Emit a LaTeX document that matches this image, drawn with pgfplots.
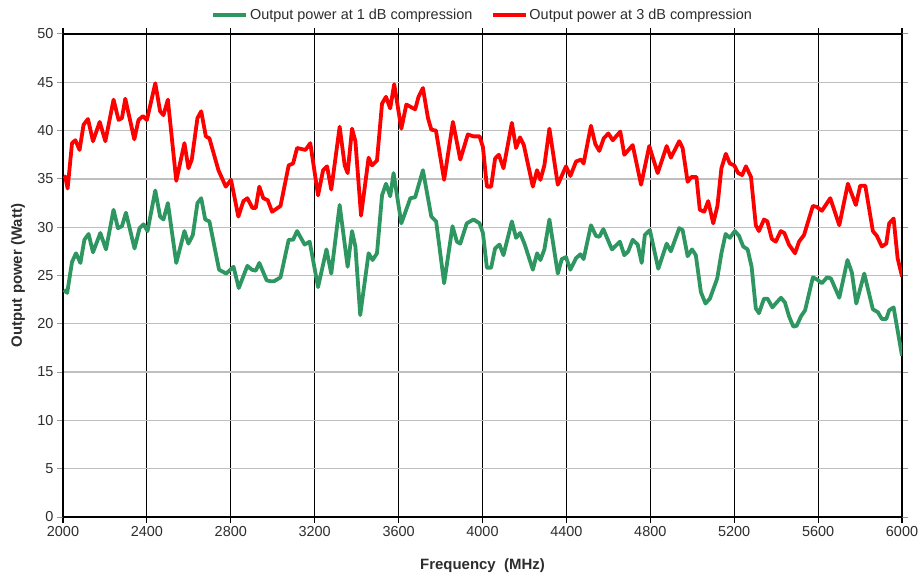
\documentclass[border=0pt]{standalone}
\usepackage{fontspec}
\setmainfont{Liberation Sans}
\usepackage{pgfplots}
\pgfplotsset{compat=1.18}
\definecolor{grn}{RGB}{46,150,96}
\definecolor{rd}{RGB}{255,0,0}
\definecolor{txt}{RGB}{45,45,45}

\begin{document}
\begin{tikzpicture}
\useasboundingbox (-63bp,-58bp) rectangle (857bp,517bp);
\begin{axis}[
    scale only axis,
    width=839bp, height=483bp,
    xmin=2000, xmax=6000, ymin=0, ymax=50,
    xtick={2000,2400,...,6000},
    ytick={0,5,...,50},
    /pgf/number format/assume math mode=true,
    /pgf/number format/1000 sep={},
    tick label style={font=\fontsize{14.5}{17}\selectfont, text=txt},
    grid=major,
    x grid style={black, line width=1.1bp},
    y grid style={black!25, line width=1.3bp},
    axis line style={black, line width=2.6bp},
    tick align=outside,
    major tick length=6bp,
    ytick style={black!40, line width=1bp},
    xtick style={black, line width=1.1bp},
    xlabel={\bfseries Frequency\ \ (MHz)},
    ylabel={\bfseries Output power (Watt)},
    xlabel style={at={(axis description cs:0.5,0)}, anchor=center, yshift=-49bp,
        font=\fontsize{15}{18}\selectfont, text=txt},
    ylabel style={at={(axis description cs:0,0.5)}, anchor=center, yshift=45bp,
        font=\fontsize{15}{18}\selectfont, text=txt},
    legend style={at={(0.5,1)}, anchor=center, yshift=19bp, draw=none, fill=none,
        legend columns=2, font=\fontsize{14.5}{16}\selectfont, text=txt,
        inner sep=0pt,
        /tikz/every even column/.append style={column sep=16bp}},
    legend image code/.code={\draw[#1, line width=4bp] (0bp,0bp) -- (33bp,0bp);},
    line join=round,
]

\addplot[grn, line width=3.8bp] coordinates {
(2004,23.5) (2020,23.2) (2043,26.4) (2062,27.3) (2083,26.3) (2102,28.7) (2122,29.3)
(2143,27.4) (2178,29.4) (2205,27.7) (2241,31.8) (2262,29.9) (2281,30.1) (2300,31.5)
(2341,27.8) (2365,29.9) (2384,30.3) (2403,29.6) (2440,33.8) (2463,31.1) (2479,30.8)
(2500,32.5) (2540,26.3) (2579,29.6) (2598,28.3) (2619,29.2) (2641,32.5) (2659,33.0)
(2678,30.8) (2698,30.6) (2744,25.6) (2778,25.2) (2813,25.9) (2838,23.7) (2879,26.0)
(2900,25.6) (2919,25.5) (2936,26.3) (2971,24.5) (2990,24.4) (3005,24.4) (3037,24.8)
(3076,28.7) (3097,28.7) (3116,29.6) (3152,28.2) (3176,28.5) (3216,23.8) (3256,27.7)
(3279,25.2) (3319,32.3) (3357,25.9) (3378,29.6) (3394,28.0) (3417,20.9) (3457,27.3)
(3476,26.6) (3497,27.3) (3521,33.3) (3540,34.5) (3560,33.2) (3576,35.6) (3613,30.4)
(3656,33.0) (3679,33.1) (3716,35.9) (3756,31.1) (3779,30.6) (3817,24.2) (3857,30.1)
(3878,28.5) (3894,28.3) (3925,30.4) (3957,30.8) (3986,30.4) (4002,29.4) (4021,25.8)
(4041,25.8) (4060,27.8) (4081,28.2) (4100,27.1) (4140,30.6) (4160,28.9) (4179,29.4)
(4200,28.3) (4240,25.6) (4260,27.3) (4276,26.6) (4295,27.7) (4319,30.8) (4359,25.2)
(4378,26.7) (4398,26.9) (4419,25.6) (4446,26.8) (4467,27.2) (4482,26.7) (4517,30.2)
(4541,29.1) (4557,29.0) (4576,29.8) (4617,27.7) (4655,28.5) (4676,27.1) (4695,27.5)
(4716,28.7) (4740,28.2) (4759,26.3) (4774,29.2) (4798,29.7) (4838,25.7) (4878,28.3)
(4898,27.5) (4938,29.9) (4954,29.7) (4978,27.0) (4999,27.7) (5017,27.1) (5041,23.3)
(5063,22.1) (5084,22.6) (5119,24.7) (5139,27.3) (5159,29.3) (5179,28.9) (5203,29.6)
(5223,29.1) (5243,28.0) (5264,27.7) (5283,25.9) (5303,21.6) (5318,21.1) (5342,22.6)
(5359,22.6) (5382,21.7) (5402,22.2) (5423,22.7) (5442,22.2) (5461,20.8) (5482,19.7)
(5498,19.8) (5519,20.8) (5538,21.4) (5575,24.8) (5594,24.6) (5618,24.2) (5642,24.8)
(5661,24.7) (5701,22.7) (5740,26.6) (5761,25.3) (5782,22.1) (5820,25.2) (5861,21.5)
(5885,21.2) (5904,20.5) (5925,20.5) (5939,21.4) (5960,21.7) (6000,16.7)
};
\addlegendentry{Output power at 1 dB compression}

\addplot[rd, line width=3.8bp] coordinates {
(2004,35.3) (2011,35.2) (2022,34.0) (2043,38.7) (2059,39.0) (2079,38.0) (2098,40.6)
(2119,41.2) (2143,38.9) (2175,40.9) (2202,38.9) (2241,43.2) (2265,41.1) (2281,41.3)
(2297,43.3) (2340,39.1) (2360,41.1) (2381,41.5) (2400,41.1) (2440,44.9) (2463,42.0)
(2479,41.6) (2500,43.2) (2540,34.8) (2579,38.7) (2598,36.1) (2614,37.0) (2641,41.3)
(2659,42.0) (2681,39.4) (2698,39.2) (2741,35.9) (2776,34.2) (2801,34.9) (2836,31.1)
(2860,32.7) (2879,33.0) (2903,32.0) (2919,32.0) (2936,34.2) (2955,33.0) (2976,32.8)
(2997,31.6) (3037,32.2) (3076,36.4) (3097,36.6) (3116,38.2) (3156,38.0) (3179,38.7)
(3216,33.3) (3240,35.9) (3259,36.3) (3279,33.9) (3319,40.4) (3343,36.4) (3357,35.6)
(3378,40.2) (3394,38.9) (3421,31.2) (3457,37.2) (3473,36.4) (3497,36.9) (3521,42.8)
(3540,43.5) (3560,42.3) (3579,44.8) (3613,40.2) (3637,42.7) (3679,42.2) (3695,43.5)
(3716,44.4) (3740,41.3) (3756,40.1) (3778,40.0) (3817,34.9) (3859,40.9) (3894,37.0)
(3930,39.6) (3957,39.4) (3986,39.4) (4002,38.3) (4021,34.2) (4041,34.2) (4060,37.1)
(4078,37.5) (4100,36.1) (4140,40.8) (4160,38.2) (4179,39.3) (4197,38.5) (4240,34.2)
(4260,35.9) (4276,34.9) (4295,36.4) (4319,40.2) (4359,34.4) (4398,36.3) (4419,35.3)
(4446,36.8) (4470,37.0) (4482,36.6) (4517,40.5) (4538,38.6) (4557,37.9) (4578,39.2)
(4600,39.7) (4621,39.0) (4657,39.9) (4676,37.5) (4716,38.5) (4756,34.4) (4795,38.4)
(4835,35.6) (4878,38.4) (4898,37.2) (4938,38.9) (4954,38.2) (4978,34.7) (4996,35.2)
(5020,35.2) (5036,31.8) (5057,31.6) (5076,32.7) (5100,30.4) (5120,32.2) (5139,36.1)
(5160,37.6) (5179,36.6) (5200,36.4) (5219,35.6) (5238,35.4) (5256,36.3) (5280,35.2)
(5303,30.2) (5318,29.6) (5342,30.8) (5358,30.6) (5379,28.8) (5398,28.5) (5422,29.6)
(5439,29.4) (5461,28.2) (5490,27.3) (5509,28.5) (5533,29.2) (5575,32.2) (5594,32.1)
(5618,31.7) (5658,33.0) (5701,30.2) (5742,34.5) (5780,32.3) (5801,34.3) (5825,34.3)
(5861,29.6) (5880,29.1) (5904,28.0) (5925,28.3) (5939,30.4) (5960,30.9) (5979,26.8)
(6000,24.9)
};
\addlegendentry{Output power at 3 dB compression}
\end{axis}
\end{tikzpicture}
\end{document}
